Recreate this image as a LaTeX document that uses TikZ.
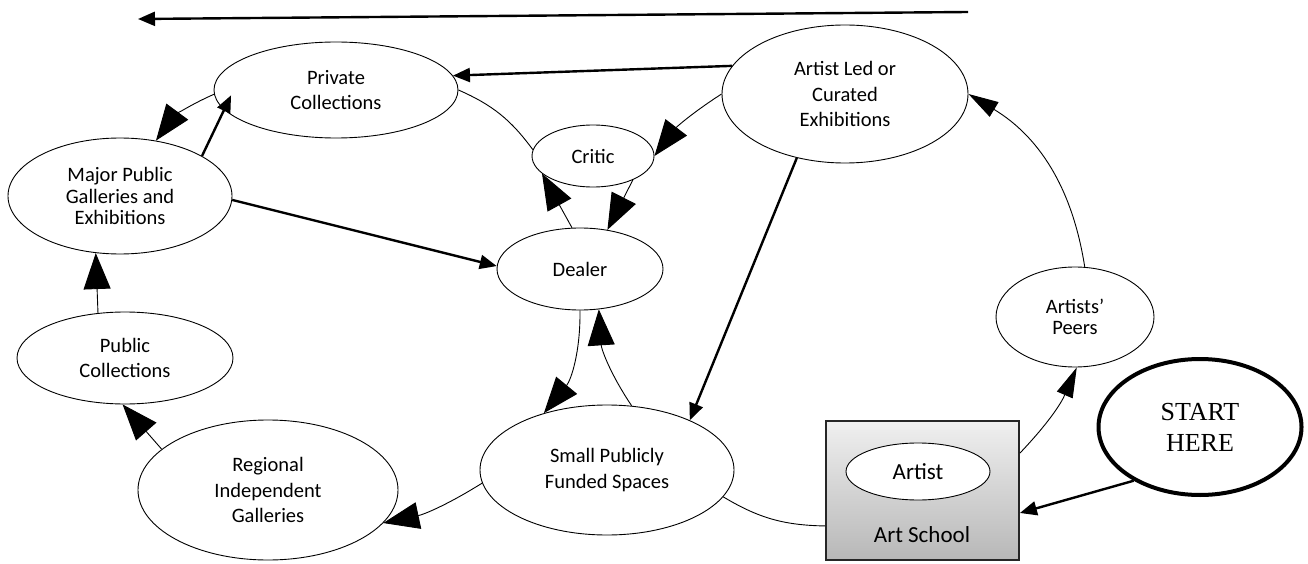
\documentclass[tikz,border=0pt]{standalone}
\usepackage{fontspec}
\setmainfont{Carlito}
\newfontfamily\timesfont{Liberation Serif}
\usetikzlibrary{shapes.geometric,arrows.meta}
\begin{document}
\begin{tikzpicture}[x=1pt,y=1pt,
  bubble/.style={ellipse, draw, line width=0.9pt, inner sep=0pt, align=center,
    font=\fontsize{20.5}{25.5}\selectfont},
  tightlines/.style={font=\fontsize{20.5}{21.5}\selectfont},
  lineA/.style={line width=0.9pt},
  boldarrow/.style={line width=2.4pt, -{Triangle[length=17pt,width=14pt]}},
  bigarrow/.style={line width=0.9pt, -{Triangle[length=36pt,width=27pt]}},
  peerarrow/.style={line width=0.9pt, -{Triangle[length=30pt,width=17pt]}},
]
\useasboundingbox (0,0) rectangle (1308,563);

% nodes
\node[bubble, minimum width=244, minimum height=96] (pc) at (336,473) {Private\\Collections};
\node[bubble, tightlines, minimum width=224, minimum height=116] (mp) at (120,367) {Major Public\\Galleries and\\Exhibitions};
\node[bubble, minimum width=216, minimum height=92] (pub) at (125,205) {Public\\Collections};
\node[bubble, minimum width=260, minimum height=140] (reg) at (268,73) {Regional\\Independent\\Galleries};
\node[bubble, minimum width=122, minimum height=62] (cr) at (593,407) {Critic};
\node[bubble, minimum width=166, minimum height=82] (de) at (580,294) {Dealer};
\node[bubble, minimum width=246, minimum height=138] (al) at (845,469) {Artist Led or\\Curated\\Exhibitions};
\node[bubble, minimum width=254, minimum height=130] (sp) at (607,93) {Small Publicly\\Funded Spaces};
\node[bubble, tightlines, minimum width=158, minimum height=100] (peers) at (1075,246) {Artists’\\Peers};
\node[ellipse, draw, line width=4pt, inner sep=0pt, align=center,
  minimum width=203, minimum height=136, font=\timesfont\fontsize{26}{31}\selectfont] (st) at (1200,136) {START\\HERE};

\node[rectangle, draw=black!85, line width=1.8pt, top color=black!6, bottom color=black!28,
  minimum width=193, minimum height=139, inner sep=0pt] (box) at (922.5,72.5) {};
\node[bubble, fill=white, font=\fontsize{23}{27}\selectfont, minimum width=144, minimum height=57] (artist) at (918,91.5) {Artist};
\node[font=\fontsize{23}{27}\selectfont, inner sep=0pt] (school) at (922,28) {Art School};

% connectors
\coordinate (ts) at (968,551);
\coordinate (te) at (138,544);
\draw[boldarrow] (ts) -- (te);

\draw[boldarrow] (al.166.8) -- (pc.7);
\draw[bigarrow] (pc.182) to[bend right=15] (mp.57);
\draw[boldarrow, shorten >=-16pt] (mp.26.6) -- (pc.190);
\draw[boldarrow] (mp.-2) -- (de.178.6);
\draw[lineA] (pc.0.5) to[bend left=15] (cr.174);
\draw[bigarrow] (al.180) to[bend right=10] (cr.0);
\draw[bigarrow] (cr.-31.6) -- (de.55);
\draw[bigarrow] (de.101) -- (cr.199);
\draw[boldarrow] (al.233.6) -- (sp.31);
\draw[bigarrow] (de.-90) to[bend left=20] (sp.138.7);
\draw[bigarrow] (sp.69.4) to[bend left=15] (de.-65.9);
\draw[bigarrow] (sp.186) to[bend left=10] (reg.-16);
\draw[bigarrow] (reg.159.7) -- (pub.-93);
\draw[bigarrow] (pub.121) -- (mp.247.8);
\draw[lineA] (sp.-13.1) to[bend right=15] (box.200.5);
\draw[peerarrow] (box.21) to[bend right=10] (peers.-88);
\draw[peerarrow] (peers.79.8) to[bend right=25] (al.0);
\draw[boldarrow] (st.219) -- (box.-13);
\end{tikzpicture}
\end{document}
